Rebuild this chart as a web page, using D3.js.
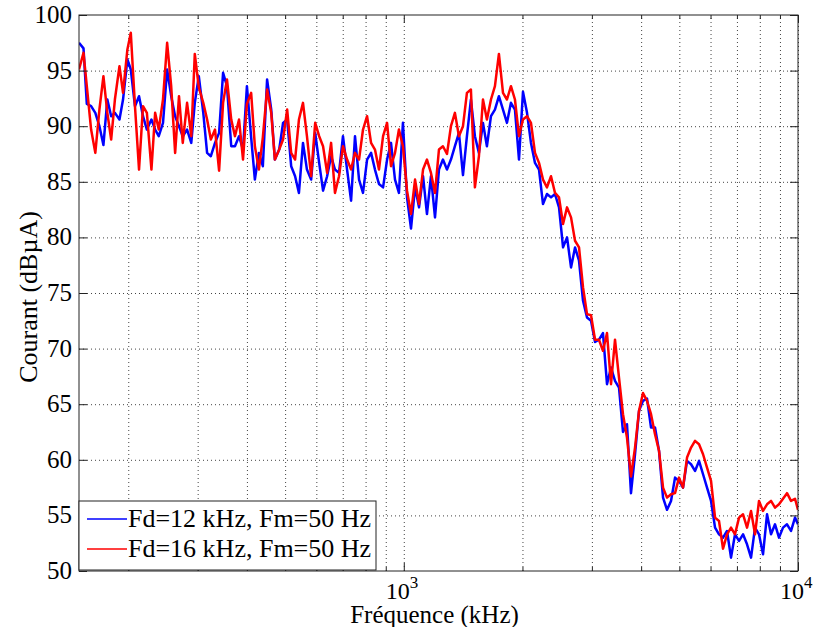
<!DOCTYPE html>
<html>
<head>
<meta charset="utf-8">
<script src="https://cdn.jsdelivr.net/npm/d3@7/dist/d3.min.js"></script>
<style>
  body { margin: 0; background: #fff; }
</style>
</head>
<body>
<div id="chart"></div>
<script>
// frequency axis (kHz), shared by both measurements
const freqKHz = [
  150,154,157,161,165,169,173,177,181,185,
  190,194,199,203,208,213,218,223,229,234,
  239,245,251,257,263,269,275,282,289,295,
  302,310,317,324,332,340,348,356,365,373,
  382,391,400,410,419,429,439,450,461,471,
  483,494,506,518,530,542,555,568,582,596,
  610,624,639,654,669,685,701,718,735,752,
  770,788,807,826,845,865,886,907,928,950,
  972,995,1019,1043,1068,1093,1119,1145,1172,1200,
  1228,1257,1287,1317,1348,1380,1413,1446,1480,1515,
  1551,1588,1625,1664,1703,1743,1785,1827,1870,1914,
  1960,2006,2054,2102,2152,2203,2255,2308,2363,2419,
  2476,2535,2595,2656,2719,2783,2849,2916,2985,3056,
  3127,3201,3277,3355,3434,3515,3598,3683,3770,3860,
  3951,4044,4140,4238,4338,4441,4546,4653,4763,4876,
  4991,5109,5230,5354,5480,5610,5743,5878,6017,6160,
  6304,6454,6606,6762,6922,7086,7254,7425,7601,7780,
  7963,8152,8345,8542,8744,8950,9162,9378,9600,9827,
  10000
];

// Fd=12 kHz, Fm=50 Hz (dBµA)
const courantFd12 = [
  97.5,97.0,92.0,91.8,91.2,90.0,88.3,92.4,90.9,91.2,
  90.6,92.4,96.0,95.1,91.8,92.7,90.9,89.7,90.6,89.7,
  89.1,90.3,95.1,92.7,90.9,90.0,89.1,89.7,88.5,92.1,
  94.5,91.2,87.6,87.3,88.5,89.4,94.8,93.6,88.2,88.2,
  89.1,87.9,93.6,89.0,85.2,87.6,86.4,94.2,91.5,87.0,
  87.9,90.3,90.6,86.4,85.5,84.0,88.5,86.1,85.2,89.4,
  86.7,84.2,85.5,87.3,86.1,85.8,89.1,86.1,83.3,89.1,
  85.2,84.0,87.0,87.6,86.1,84.8,84.5,87.0,88.5,85.2,
  84.0,90.3,83.6,80.8,84.5,82.7,85.5,82.1,85.5,81.8,
  86.1,87.0,86.1,87.0,88.2,89.4,85.6,89.1,92.4,89.1,
  87.6,90.3,88.2,90.9,91.5,92.7,91.5,90.3,92.1,91.5,
  87.0,93.1,91.2,88.5,86.7,86.1,83.0,83.9,83.6,83.9,
  82.7,79.1,80.0,77.3,79.1,77.9,74.3,72.8,72.5,70.6,
  70.8,71.4,66.8,68.3,67.1,66.5,62.5,63.2,57.0,60.5,
  64.4,65.3,65.5,62.9,62.9,60.8,56.6,55.5,56.3,58.4,
  58.1,57.5,59.9,59.6,59.0,59.9,58.7,57.5,56.3,53.9,
  53.3,53.0,53.6,51.2,53.3,52.7,53.3,52.4,51.2,53.9,
  53.3,51.5,55.1,53.3,54.2,53.0,53.9,54.2,53.6,54.8,
  54.2
];

// Fd=16 kHz, Fm=50 Hz (dBµA)
const courantFd16 = [
  95.1,96.6,93.6,89.7,87.6,91.5,94.5,91.2,88.8,92.4,
  95.4,93.0,96.9,98.4,91.8,86.1,91.8,91.2,86.1,91.2,
  89.7,92.4,97.5,93.6,87.6,92.7,88.5,92.1,89.1,96.5,
  93.5,92.1,90.6,88.8,89.7,86.0,92.1,94.2,90.6,89.1,
  90.6,87.0,92.0,93.0,88.2,86.1,89.0,93.3,91.2,87.0,
  87.9,88.8,91.5,87.6,87.0,90.6,92.1,89.1,85.5,90.3,
  89.1,88.2,85.8,88.5,84.0,85.5,88.2,87.0,86.1,87.6,
  87.0,89.7,90.9,88.5,87.9,86.1,89.1,90.3,86.4,87.6,
  89.7,88.2,84.2,82.1,85.2,83.0,86.1,87.0,85.8,84.0,
  87.9,88.2,87.5,90.0,91.2,89.1,90.0,93.0,93.3,84.5,
  87.3,92.4,90.6,92.4,93.6,96.5,93.0,92.4,93.6,92.4,
  89.1,90.6,90.9,90.3,87.6,86.7,85.2,84.5,85.5,84.0,
  83.6,81.2,82.7,81.8,79.7,79.1,75.5,73.1,73.0,70.8,
  70.8,69.8,71.4,66.8,70.8,67.4,64.1,62.0,58.5,61.1,
  64.4,66.0,65.3,64.1,62.3,60.8,57.5,56.6,56.9,57.0,
  58.4,57.5,60.2,61.1,61.7,61.4,60.5,59.3,58.1,54.8,
  54.5,52.0,53.3,53.9,53.3,54.8,55.1,53.9,55.4,53.3,
  56.3,55.4,56.0,56.3,55.7,56.0,56.5,57.0,56.3,56.5,
  55.5
];

const yTicks = [50, 55, 60, 65, 70, 75, 80, 85, 90, 95, 100];
const xMajorTicks = [1000, 10000];
const xMinorTicks = [200, 300, 400, 500, 600, 700, 800, 900,
                     2000, 3000, 4000, 5000, 6000, 7000, 8000, 9000];
const xTickExp = ["3", "4"];
const seriesNames = ["Fd=12 kHz, Fm=50 Hz", "Fd=16 kHz, Fm=50 Hz"];
const seriesColors = ["#0000ff", "#ff0000"];

const W = 814, H = 627;
const margin = { top: 15, right: 16, bottom: 56, left: 79 };
const plotW = W - margin.left - margin.right;
const plotH = H - margin.top - margin.bottom;
const FONT = "Liberation Serif";

const svg = d3.select("#chart").append("svg")
    .attr("width", W)
    .attr("height", H);

svg.append("rect").attr("width", W).attr("height", H).attr("fill", "#fff");

const x = d3.scaleLog().domain([150, 10000]).range([margin.left, margin.left + plotW]);
const y = d3.scaleLinear().domain([50, 100]).range([margin.top + plotH, margin.top]);

const pLeft = margin.left, pRight = margin.left + plotW;
const pTop = margin.top, pBottom = margin.top + plotH;

// grid (dotted)
const gridX = svg.append("g")
    .attr("transform", `translate(0,${pBottom})`)
    .call(d3.axisBottom(x).tickValues(xMajorTicks.concat(xMinorTicks)).tickSize(-plotH).tickFormat(""));
gridX.select(".domain").remove();
gridX.selectAll(".tick line").attr("stroke", "#444").attr("stroke-dasharray", "1,3");

const gridY = svg.append("g")
    .attr("transform", `translate(${pLeft},0)`)
    .call(d3.axisLeft(y).tickValues(yTicks.slice(1, -1)).tickSize(-plotW).tickFormat(""));
gridY.select(".domain").remove();
gridY.selectAll(".tick line").attr("stroke", "#444").attr("stroke-dasharray", "1,3");

// lines
svg.append("clipPath").attr("id", "clip")
  .append("rect").attr("x", pLeft).attr("y", pTop).attr("width", plotW).attr("height", plotH);

const line = d3.line()
    .x(d => x(d[0]))
    .y(d => y(d[1]));

[courantFd12, courantFd16].forEach((vals, k) => {
    svg.append("path")
        .datum(freqKHz.map((f, i) => [f, vals[i]]))
        .attr("clip-path", "url(#clip)")
        .attr("fill", "none")
        .attr("stroke", seriesColors[k])
        .attr("stroke-width", 2.5)
        .attr("stroke-linejoin", "round")
        .attr("d", line);
});

// axes with inward ticks (all four sides)
function styleAxis(g) {
    g.select(".domain").remove();
    g.selectAll(".tick line").attr("stroke", "#222");
}
svg.append("g").attr("transform", `translate(${pLeft},0)`)
    .call(d3.axisLeft(y).tickValues(yTicks).tickSize(-8).tickFormat("")).call(styleAxis);
svg.append("g").attr("transform", `translate(${pRight},0)`)
    .call(d3.axisRight(y).tickValues(yTicks).tickSize(-8).tickFormat("")).call(styleAxis);
svg.append("g").attr("transform", `translate(0,${pBottom})`)
    .call(d3.axisBottom(x).tickValues(xMajorTicks).tickSize(-8).tickFormat("")).call(styleAxis);
svg.append("g").attr("transform", `translate(0,${pTop})`)
    .call(d3.axisTop(x).tickValues(xMajorTicks).tickSize(-8).tickFormat("")).call(styleAxis);
svg.append("g").attr("transform", `translate(0,${pBottom})`)
    .call(d3.axisBottom(x).tickValues(xMinorTicks).tickSize(-4).tickFormat("")).call(styleAxis);
svg.append("g").attr("transform", `translate(0,${pTop})`)
    .call(d3.axisTop(x).tickValues(xMinorTicks).tickSize(-4).tickFormat("")).call(styleAxis);

svg.append("rect")
    .attr("x", pLeft).attr("y", pTop).attr("width", plotW).attr("height", plotH)
    .attr("fill", "none").attr("stroke", "#222").attr("stroke-width", 1);

// tick labels
svg.selectAll(".ylab").data(yTicks).enter().append("text")
    .attr("class", "ylab")
    .attr("x", pLeft - 7)
    .attr("y", d => y(d) + 8)
    .attr("text-anchor", "end")
    .style("font-family", FONT)
    .style("font-size", "25px")
    .text(d => d);

const xl = svg.selectAll(".xlab").data(xMajorTicks).enter().append("text")
    .attr("class", "xlab")
    .attr("x", d => x(d) - 18)
    .attr("y", pBottom + 28)
    .style("font-family", FONT)
    .style("font-size", "24px");
xl.append("tspan").text("10");
xl.append("tspan").attr("dy", -11).style("font-size", "17px").text((d, i) => xTickExp[i]);

// axis titles
svg.append("text")
    .attr("x", (pLeft + pRight) / 2 - 4)
    .attr("y", 623)
    .attr("text-anchor", "middle")
    .style("font-family", FONT)
    .style("font-size", "25px")
    .text("Fréquence (kHz)");

svg.append("text")
    .attr("transform", `translate(37,${(pTop + pBottom) / 2 + 4}) rotate(-90)`)
    .attr("text-anchor", "middle")
    .style("font-family", FONT)
    .style("font-size", "26px")
    .text("Courant (dBµA)");

// legend
const lg = svg.append("g");
lg.append("rect")
    .attr("x", pLeft).attr("y", 501).attr("width", 297).attr("height", 69)
    .attr("fill", "#fff").attr("stroke", "#222").attr("stroke-width", 1);
seriesNames.forEach((name, k) => {
    const ly = 519 + k * 30;
    lg.append("line")
        .attr("x1", pLeft + 8).attr("x2", pLeft + 48)
        .attr("y1", ly).attr("y2", ly)
        .attr("stroke", seriesColors[k]).attr("stroke-width", 1.5);
    lg.append("text")
        .attr("x", pLeft + 49).attr("y", ly + 8)
        .style("font-family", FONT)
        .style("font-size", "26px")
        .text(name);
});
</script>
</body>
</html>
